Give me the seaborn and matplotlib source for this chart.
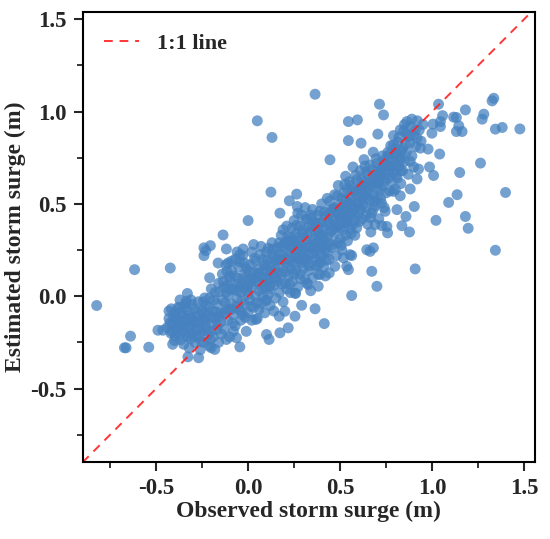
import matplotlib
matplotlib.use("Agg")
import matplotlib.pyplot as plt
import seaborn as sns
import pandas as pd
from matplotlib.ticker import MultipleLocator, FormatStrFormatter

# ---------------- data (observed, estimated) ----------------
core_lowleft = [
    (-0.44,-0.17),(-0.43,-0.12),(-0.42,-0.20),(-0.41,-0.15),(-0.40,-0.09),(-0.40,-0.24),(-0.39,-0.18),(-0.38,-0.13),(-0.38,-0.06),(-0.37,-0.21),
    (-0.36,-0.16),(-0.36,-0.10),(-0.35,-0.26),(-0.35,-0.19),(-0.34,-0.13),(-0.34,-0.04),(-0.33,-0.22),(-0.33,-0.08),(-0.32,-0.17),(-0.32,-0.28),
    (-0.31,-0.12),(-0.31,-0.02),(-0.30,-0.20),(-0.30,-0.15),(-0.29,-0.07),(-0.29,-0.25),(-0.28,-0.11),(-0.28,-0.18),(-0.27,-0.03),(-0.27,-0.22),
    (-0.26,-0.14),(-0.26,-0.29),(-0.25,-0.08),(-0.25,-0.19),(-0.24,-0.12),(-0.24,-0.25),(-0.23,-0.16),(-0.23,-0.05),(-0.22,-0.21),(-0.22,-0.10),
    (-0.21,-0.01),(-0.21,-0.27),(-0.20,-0.15),(-0.20,0.04),(-0.19,-0.08),(-0.19,-0.22),(-0.18,-0.12),(-0.18,0.02),(-0.17,-0.18),(-0.17,-0.04),
    (-0.16,-0.25),(-0.16,0.07),(-0.15,-0.09),(-0.15,-0.14),(-0.43,-0.08),(-0.41,-0.26),(-0.37,-0.02),(-0.39,-0.11),(-0.35,-0.14),(-0.31,-0.23),
]
core_center = [
    (-0.14,-0.02),(-0.14,0.12),(-0.13,-0.18),(-0.13,0.05),(-0.12,-0.07),(-0.12,0.17),(-0.11,-0.13),(-0.11,0.01),(-0.10,0.09),(-0.10,-0.22),
    (-0.09,-0.04),(-0.09,0.14),(-0.08,-0.10),(-0.08,0.04),(-0.07,0.20),(-0.07,-0.16),(-0.06,-0.01),(-0.06,0.10),(-0.05,-0.07),(-0.05,0.16),
    (-0.04,0.02),(-0.04,-0.13),(-0.03,0.07),(-0.03,0.22),(-0.02,-0.04),(-0.02,0.12),(-0.01,-0.19),(-0.01,0.03),(0.00,0.09),(0.00,-0.09),
    (0.01,0.17),(0.01,-0.02),(0.02,0.05),(0.02,0.24),(0.03,-0.06),(0.03,0.13),(0.04,0.00),(0.04,0.19),(0.05,-0.12),(0.05,0.08),
    (0.06,0.15),(0.06,0.03),(0.07,0.27),(0.07,-0.04),(0.08,0.10),(0.08,0.20),(0.09,0.05),(0.09,-0.09),(0.10,0.14),(0.10,0.24),
    (0.11,0.01),(0.11,0.09),(0.12,0.18),(0.12,-0.05),(0.13,0.12),(0.13,0.29),(0.14,0.06),(0.14,0.21),(0.15,-0.01),(0.15,0.15),
    (-0.13,-0.09),(-0.11,0.06),(-0.08,-0.19),(-0.06,0.24),(-0.04,-0.08),(-0.01,0.15),(0.02,-0.13),(0.04,0.08),(0.06,-0.07),(0.09,0.17),
    (0.11,0.26),(0.12,0.04),(0.14,-0.08),(0.03,0.28),(-0.02,0.18),(0.08,0.00),(0.10,-0.02),(0.13,0.23),(-0.05,0.05),(0.00,0.01),
]
core_mid = [
    (0.16,0.08),(0.16,0.26),(0.17,0.17),(0.17,0.02),(0.18,0.33),(0.18,0.12),(0.19,0.22),(0.19,-0.03),(0.20,0.07),(0.20,0.29),
    (0.21,0.16),(0.21,0.38),(0.22,0.11),(0.22,0.24),(0.23,0.02),(0.23,0.32),(0.24,0.19),(0.24,0.08),(0.25,0.27),(0.25,0.41),
    (0.26,0.14),(0.26,0.34),(0.27,0.05),(0.27,0.22),(0.28,0.30),(0.28,0.12),(0.29,0.44),(0.29,0.18),(0.30,0.25),(0.30,0.36),
    (0.31,0.09),(0.31,0.31),(0.32,0.20),(0.32,0.42),(0.33,0.14),(0.33,0.28),(0.34,0.35),(0.34,0.03),(0.35,0.23),(0.35,0.47),
    (0.36,0.31),(0.36,0.17),(0.37,0.39),(0.37,0.26),(0.38,0.12),(0.38,0.44),(0.39,0.33),(0.39,0.21),(0.40,0.50),(0.40,0.28),
    (0.41,0.37),(0.41,0.16),(0.42,0.43),(0.42,0.25),(0.43,0.32),(0.43,0.53),(0.44,0.40),(0.44,0.20),(0.45,0.35),(0.45,0.47),
    (0.17,0.29),(0.19,0.36),(0.21,0.04),(0.23,0.15),(0.24,0.37),(0.26,0.21),(0.27,0.45),(0.28,0.38),(0.30,0.15),(0.31,0.48),
    (0.32,0.07),(0.33,0.38),(0.35,0.10),(0.36,0.40),(0.37,0.20),(0.38,0.30),(0.39,0.46),(0.41,0.27),(0.42,0.11),(0.44,0.29),
    (0.18,0.20),(0.22,0.30),(0.25,0.12),(0.29,0.26),(0.33,0.22),(0.36,0.25),(0.40,0.40),(0.43,0.24),(0.27,0.32),(0.31,0.19),
]
core_upper = [
    (0.46,0.28),(0.46,0.41),(0.47,0.55),(0.47,0.34),(0.48,0.22),(0.48,0.46),(0.49,0.38),(0.49,0.60),(0.50,0.31),(0.50,0.50),
    (0.51,0.43),(0.51,0.25),(0.52,0.56),(0.52,0.36),(0.53,0.47),(0.53,0.65),(0.54,0.40),(0.54,0.30),(0.55,0.53),(0.55,0.44),
    (0.56,0.60),(0.56,0.34),(0.57,0.48),(0.57,0.70),(0.58,0.41),(0.58,0.56),(0.59,0.63),(0.59,0.37),(0.60,0.51),(0.60,0.45),
    (0.61,0.68),(0.61,0.58),(0.62,0.42),(0.62,0.53),(0.63,0.62),(0.63,0.74),(0.64,0.48),(0.64,0.57),(0.65,0.66),(0.65,0.39),
    (0.66,0.52),(0.66,0.71),(0.67,0.60),(0.67,0.45),(0.68,0.78),(0.68,0.55),(0.69,0.65),(0.69,0.49),(0.70,0.72),(0.70,0.58),
    (0.71,0.62),(0.71,0.42),(0.72,0.68),(0.72,0.53),(0.73,0.76),(0.73,0.60),(0.74,0.48),(0.74,0.66),(0.75,0.56),(0.75,0.71),
    (0.47,0.42),(0.49,0.29),(0.51,0.53),(0.52,0.47),(0.54,0.58),(0.56,0.45),(0.58,0.33),(0.59,0.50),(0.61,0.47),(0.63,0.55),
    (0.64,0.67),(0.66,0.60),(0.68,0.47),(0.70,0.64),(0.72,0.58),(0.50,0.37),(0.53,0.33),(0.55,0.62),(0.57,0.39),(0.60,0.58),
    (0.76,0.64),(0.76,0.78),(0.77,0.70),(0.77,0.57),(0.78,0.74),(0.78,0.62),(0.79,0.82),(0.79,0.67),(0.80,0.72),(0.80,0.58),
    (0.81,0.77),(0.81,0.64),(0.82,0.86),(0.82,0.70),(0.83,0.75),(0.83,0.61),(0.84,0.80),(0.84,0.68),(0.85,0.73),(0.86,0.88),
    (0.86,0.78),(0.87,0.66),(0.88,0.83),(0.88,0.92),(0.89,0.76),(0.90,0.87),(0.91,0.81),(0.92,0.95),(0.93,0.90),(0.94,0.84),
    (0.79,0.87),(0.85,0.93),(0.90,0.70),(0.95,0.93),(0.83,0.68),
]
fill_low = [
    (-0.425,-0.145),(-0.415,-0.19),(-0.405,-0.115),(-0.395,-0.215),(-0.385,-0.155),(-0.375,-0.09),(-0.365,-0.235),(-0.355,-0.175),(-0.345,-0.06),(-0.335,-0.155),
    (-0.325,-0.105),(-0.315,-0.205),(-0.305,-0.045),(-0.295,-0.135),(-0.285,-0.215),(-0.275,-0.085),(-0.265,-0.175),(-0.255,-0.245),(-0.245,-0.03),(-0.235,-0.135),
    (-0.225,-0.185),(-0.215,-0.06),(-0.205,-0.235),(-0.195,-0.115),(-0.185,-0.02),(-0.175,-0.085),(-0.165,-0.155),(-0.155,0.025),(-0.145,-0.205),(-0.135,0.08),
    (-0.125,-0.035),(-0.115,0.135),(-0.105,-0.075),(-0.095,0.035),(-0.085,-0.145),(-0.075,0.11),(-0.065,-0.055),(-0.055,0.065),(-0.045,0.185),(-0.035,-0.025),
    (-0.025,0.095),(-0.015,-0.115),(-0.005,0.055),(0.005,0.135),(0.015,-0.055),(0.025,0.095),(0.035,0.205),(0.045,-0.035),(0.055,0.125),(0.065,0.225),
    (0.075,0.045),(0.085,0.145),(0.095,-0.025),(0.105,0.195),(0.115,0.055),(0.125,0.135),(0.135,0.255),(0.145,0.095),(0.155,0.195),(0.165,0.125),
]
fill_high = [
    (0.175,0.225),(0.185,0.065),(0.195,0.275),(0.205,0.185),(0.215,0.325),(0.225,0.065),(0.235,0.235),(0.245,0.295),(0.255,0.175),(0.265,0.385),
    (0.275,0.265),(0.285,0.095),(0.295,0.345),(0.305,0.205),(0.315,0.415),(0.325,0.265),(0.335,0.165),(0.345,0.425),(0.355,0.295),(0.365,0.355),
    (0.375,0.165),(0.385,0.395),(0.395,0.265),(0.405,0.335),(0.415,0.455),(0.425,0.195),(0.435,0.385),(0.445,0.515),(0.455,0.265),(0.465,0.475),
    (0.475,0.385),(0.485,0.545),(0.495,0.435),(0.505,0.275),(0.515,0.485),(0.525,0.605),(0.535,0.415),(0.545,0.505),(0.555,0.365),(0.565,0.575),
    (0.575,0.445),(0.585,0.655),(0.595,0.545),(0.605,0.405),(0.615,0.625),(0.625,0.495),(0.635,0.705),(0.645,0.535),(0.655,0.615),(0.665,0.425),
    (0.675,0.685),(0.685,0.515),(0.695,0.745),(0.705,0.615),(0.715,0.665),(0.725,0.505),(0.735,0.705),(0.745,0.625),(0.755,0.755),(0.765,0.675),
    (0.775,0.815),(0.785,0.705),(0.795,0.765),(0.805,0.655),(0.815,0.835),(0.825,0.735),(0.835,0.785),(0.845,0.895),(0.855,0.825),(0.875,0.865),
]
fill_axis = [
    (-0.38,-0.17),(-0.33,-0.12),(-0.28,-0.14),(-0.24,-0.09),(-0.2,-0.19),(-0.16,-0.11),(-0.12,0.02),(-0.09,-0.07),(-0.06,0.03),(-0.03,-0.1),
    (0.0,0.05),(0.03,0.1),(0.06,0.11),(0.09,0.1),(0.12,0.16),(0.15,0.1),(0.18,0.27),(0.2,0.13),(0.23,0.27),(0.26,0.28),
    (0.29,0.22),(0.32,0.33),(0.35,0.38),(0.38,0.36),(0.41,0.31),(0.44,0.45),(0.47,0.48),(0.5,0.44),(0.53,0.52),(0.56,0.51),
    (0.59,0.57),(0.62,0.6),(0.65,0.56),(0.68,0.63),(0.71,0.69),(0.74,0.73),(0.77,0.77),(0.8,0.8),(0.34,0.27),(0.28,0.2),
    (0.22,0.2),(0.16,0.2),(0.1,0.07),(0.46,0.36),(0.52,0.4),(0.58,0.48),(0.64,0.44),(0.7,0.53),(0.4,0.22),(0.34,0.44),
]
outliers_low = [
    (0.05,0.95),(0.13,0.86),(0.124,0.564),(0.0,0.41),(-0.136,0.332),(-0.205,0.274),(-0.24,0.262),(-0.24,0.22),(-0.118,0.256),(-0.027,0.256),
    (-0.163,0.18),(-0.109,0.18),(-0.045,0.225),(-0.617,0.144),(-0.423,0.153),(-0.823,-0.05),(-0.639,-0.216),(-0.672,-0.279),(-0.663,-0.279),(-0.54,-0.276),
    (-0.49,-0.184),(-0.463,-0.184),(-0.327,-0.328),(-0.269,-0.333),(-0.33,0.015),(-0.236,-0.009),(-0.209,0.1),(-0.1,0.108),(-0.045,-0.274),(0.114,-0.234),
    (0.1,-0.207),(-0.23,0.247),(-0.09,0.19),(-0.336,-0.027),(-0.417,-0.068),(-0.372,-0.063),(-0.2,-0.279),(-0.181,-0.288),(-0.118,-0.234),(-0.063,-0.225),
    (0.042,-0.126),(0.264,0.553),(0.224,0.517),(0.267,0.486),(0.173,0.45),(0.173,-0.198),(0.218,-0.171),(0.255,-0.108),(0.169,-0.108),(0.255,0.018),
    (0.2,-0.081),(0.258,0.015),
]
outliers_high = [
    (0.445,0.739),(0.563,0.004),(0.7,0.054),(0.672,0.135),(0.414,-0.148),(0.364,-0.068),(0.291,-0.049),(0.391,0.18),(0.391,0.117),(0.472,0.162),
    (0.536,0.162),(0.518,0.208),(0.563,0.22),(0.645,0.252),(0.681,0.262),(0.745,0.46),(0.809,0.469),(0.754,0.378),(0.79,0.568),(0.381,0.054),
    (0.327,0.063),(0.441,0.126),(0.545,0.144),(0.714,1.04),(0.736,0.982),(0.545,0.946),(0.594,0.955),(0.545,0.843),(0.614,0.829),(0.705,0.878),
    (0.827,0.901),(1.035,1.04),(1.057,0.978),(1.117,0.97),(1.132,0.968),(1.181,1.009),(1.281,0.986),(1.272,0.959),(1.335,1.072),(1.326,1.058),
    (1.344,0.905),(1.381,0.914),(1.477,0.906),(1.005,0.932),(1.045,0.919),(1.132,0.892),(1.163,0.892),(1.145,0.923),(0.999,0.883),(1.045,0.946),
    (0.863,0.946),(0.89,0.959),(0.908,0.901),(0.918,0.856),(0.936,0.802),(0.978,0.797),(1.041,0.77),(1.263,0.721),(1.15,0.67),(1.399,0.562),
    (1.136,0.55),(1.09,0.508),(1.021,0.411),(1.181,0.432),(1.196,0.368),(1.344,0.249),(0.986,0.7),(1.008,0.654),(0.926,0.689),(0.881,0.73),
    (0.918,0.635),(0.881,0.581),(0.827,0.544),(0.903,0.486),(0.858,0.432),(0.836,0.382),(0.877,0.348),(0.727,0.382),(0.69,0.388),(0.667,0.348),
    (0.758,0.343),(0.908,0.148),(0.663,0.243),(0.554,0.225),(0.364,1.094),
]
line_ends = [-0.9, 1.53]
x_ticks = [-0.5, 0.0, 0.5, 1.0, 1.5]
y_ticks = [-0.5, 0.0, 0.5, 1.0, 1.5]

# ---------------- style ----------------
sns.set_style("ticks")
plt.rcParams['font.family'] = ['Liberation Serif', 'DejaVu Serif']
plt.rcParams['font.weight'] = 'bold'
plt.rcParams['axes.labelweight'] = 'bold'

all_pts = (core_lowleft + core_center + core_mid + core_upper + fill_low + fill_high
           + fill_axis + outliers_low + outliers_high)
df = pd.DataFrame(all_pts, columns=["observed", "estimated"])

fig = plt.figure(figsize=(5.5, 5.39), dpi=100)
ax = fig.add_axes([0.150, 0.142, 0.823, 0.836])

sns.scatterplot(data=df, x="observed", y="estimated", ax=ax, color="#4682c0",
                alpha=0.75, s=62, edgecolor="none", linewidth=0, legend=False)
sns.lineplot(x=line_ends, y=line_ends, ax=ax, color="#ff2020", linestyle=(0, (4.5, 3.5)),
             linewidth=1.4, label="1:1 line", alpha=0.9)

ax.set_xlim(-0.9, 1.56)
ax.set_ylim(-0.9, 1.54)
ax.set_xticks(x_ticks)
ax.set_yticks(y_ticks)
ax.xaxis.set_minor_locator(MultipleLocator(0.25))
ax.yaxis.set_minor_locator(MultipleLocator(0.25))
ax.xaxis.set_major_formatter(FormatStrFormatter('%.1f'))
ax.yaxis.set_major_formatter(FormatStrFormatter('%.1f'))
ax.tick_params(axis='both', which='major', direction='out', length=6.5, width=1.5,
               labelsize=16.5, pad=5, top=False, right=False)
ax.tick_params(axis='both', which='minor', direction='out', length=4.5, width=1.3,
               top=False, right=False)
for lab in ax.get_xticklabels() + ax.get_yticklabels():
    lab.set_fontweight('bold')
for sp in ax.spines.values():
    sp.set_linewidth(1.5)
    sp.set_visible(True)
    sp.set_color('black')

ax.set_xlabel("Observed storm surge (m)", fontsize=17, fontweight='bold', labelpad=1)
ax.set_ylabel("Estimated storm surge (m)", fontsize=17, fontweight='bold', labelpad=3)

leg = ax.legend(loc='upper left', frameon=False, prop={'weight': 'bold', 'size': 16},
                handlelength=1.6, handletextpad=0.8, borderaxespad=0.55)

fig.savefig("out.png", dpi=100)
